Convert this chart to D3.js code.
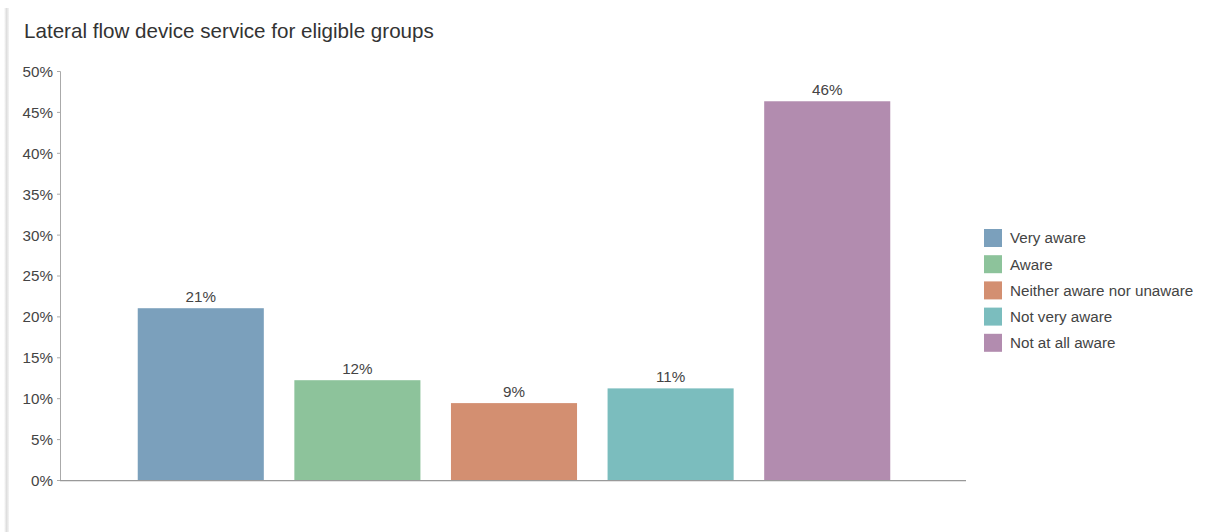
<!DOCTYPE html>
<html>
<head>
<meta charset="utf-8">
<script src="https://cdn.jsdelivr.net/npm/d3@7"></script>
<style>
  html, body { margin: 0; padding: 0; background: #fff; }
  svg { display: block; font-family: "Liberation Sans", Arial, sans-serif; }
</style>
</head>
<body>
<svg id="chart" width="1209" height="532"></svg>
<script>
// Awareness of the lateral flow device service (percent of respondents)
const categories = ["Very aware", "Aware", "Neither aware nor unaware", "Not very aware", "Not at all aware"];
const values = [21.0, 12.2, 9.4, 11.2, 46.3];
const colors = ["#7ba0bc", "#8dc39b", "#d38f71", "#7bbdbe", "#b28caf"];
const yTicks = [0, 5, 10, 15, 20, 25, 30, 35, 40, 45, 50];
const title = "Lateral flow device service for eligible groups";

const svg = d3.select("#chart");
const W = 1209, H = 532;
const margin = { left: 60, right: W - 966, top: 71, bottom: H - 480 };
const fontSize = 15.2;

// soft panel edge on the left
const defs = svg.append("defs");
const grad = defs.append("linearGradient").attr("id", "edge").attr("x1", 0).attr("x2", 1);
grad.append("stop").attr("offset", 0).attr("stop-color", "#fff");
grad.append("stop").attr("offset", 0.5).attr("stop-color", "#dedede");
grad.append("stop").attr("offset", 1).attr("stop-color", "#f4f4f4");
svg.append("rect").attr("x", 4).attr("y", 8).attr("width", 5).attr("height", H - 8).attr("fill", "url(#edge)");

svg.append("text")
  .attr("x", 24).attr("y", 38)
  .attr("font-size", 20.6).attr("fill", "#333")
  .text(title);

const x = d3.scaleBand()
  .domain(categories)
  .range([margin.left + 1, W - margin.right + 1])
  .paddingInner(0.195)
  .paddingOuter(0.49);

const y = d3.scaleLinear()
  .domain([0, 50])
  .range([H - margin.bottom, margin.top]);

// y axis
const yAxis = svg.append("g")
  .attr("transform", `translate(${margin.left},0)`)
  .call(d3.axisLeft(y).tickValues(yTicks).tickSize(3).tickPadding(4).tickFormat(d => d + "%"));
yAxis.select(".domain").attr("stroke", "#aaa");
yAxis.selectAll(".tick line").attr("stroke", "#aaa");
yAxis.selectAll(".tick text").attr("font-size", fontSize).attr("fill", "#444")
  .attr("font-family", "Liberation Sans, Arial, sans-serif").attr("dy", "0.36em");

// bars
svg.append("g").selectAll("rect")
  .data(categories)
  .join("rect")
  .attr("x", d => x(d))
  .attr("width", x.bandwidth())
  .attr("y", (d, i) => y(values[i]))
  .attr("height", (d, i) => y(0) - y(values[i]))
  .attr("fill", (d, i) => colors[i]);

// value labels
svg.append("g").selectAll("text")
  .data(categories)
  .join("text")
  .attr("x", d => x(d) + x.bandwidth() / 2)
  .attr("y", (d, i) => y(values[i]) - 6)
  .attr("text-anchor", "middle")
  .attr("font-size", fontSize).attr("fill", "#444")
  .text((d, i) => Math.round(values[i]) + "%");

// baseline
const xAxis = svg.append("g")
  .attr("transform", `translate(0,${y(0)})`)
  .call(d3.axisBottom(x).tickSize(0).tickFormat(""));
xAxis.select(".domain").attr("stroke", "#999").attr("d", `M${margin.left},0.5H${W - margin.right}`);
svg.append("line")
  .attr("x1", margin.left).attr("x2", W - margin.right)
  .attr("y1", y(0) + 1.5).attr("y2", y(0) + 1.5)
  .attr("stroke", "#e4e4e4");

// legend
const legend = svg.append("g").attr("transform", "translate(984,229)");
const item = legend.selectAll("g")
  .data(categories)
  .join("g")
  .attr("transform", (d, i) => `translate(0,${i * 26.2})`);
item.append("rect").attr("width", 18).attr("height", 18).attr("fill", (d, i) => colors[i]);
item.append("text").attr("x", 26).attr("y", 9).attr("dy", "0.35em")
  .attr("font-size", fontSize).attr("fill", "#444").text(d => d);
</script>
</body>
</html>
